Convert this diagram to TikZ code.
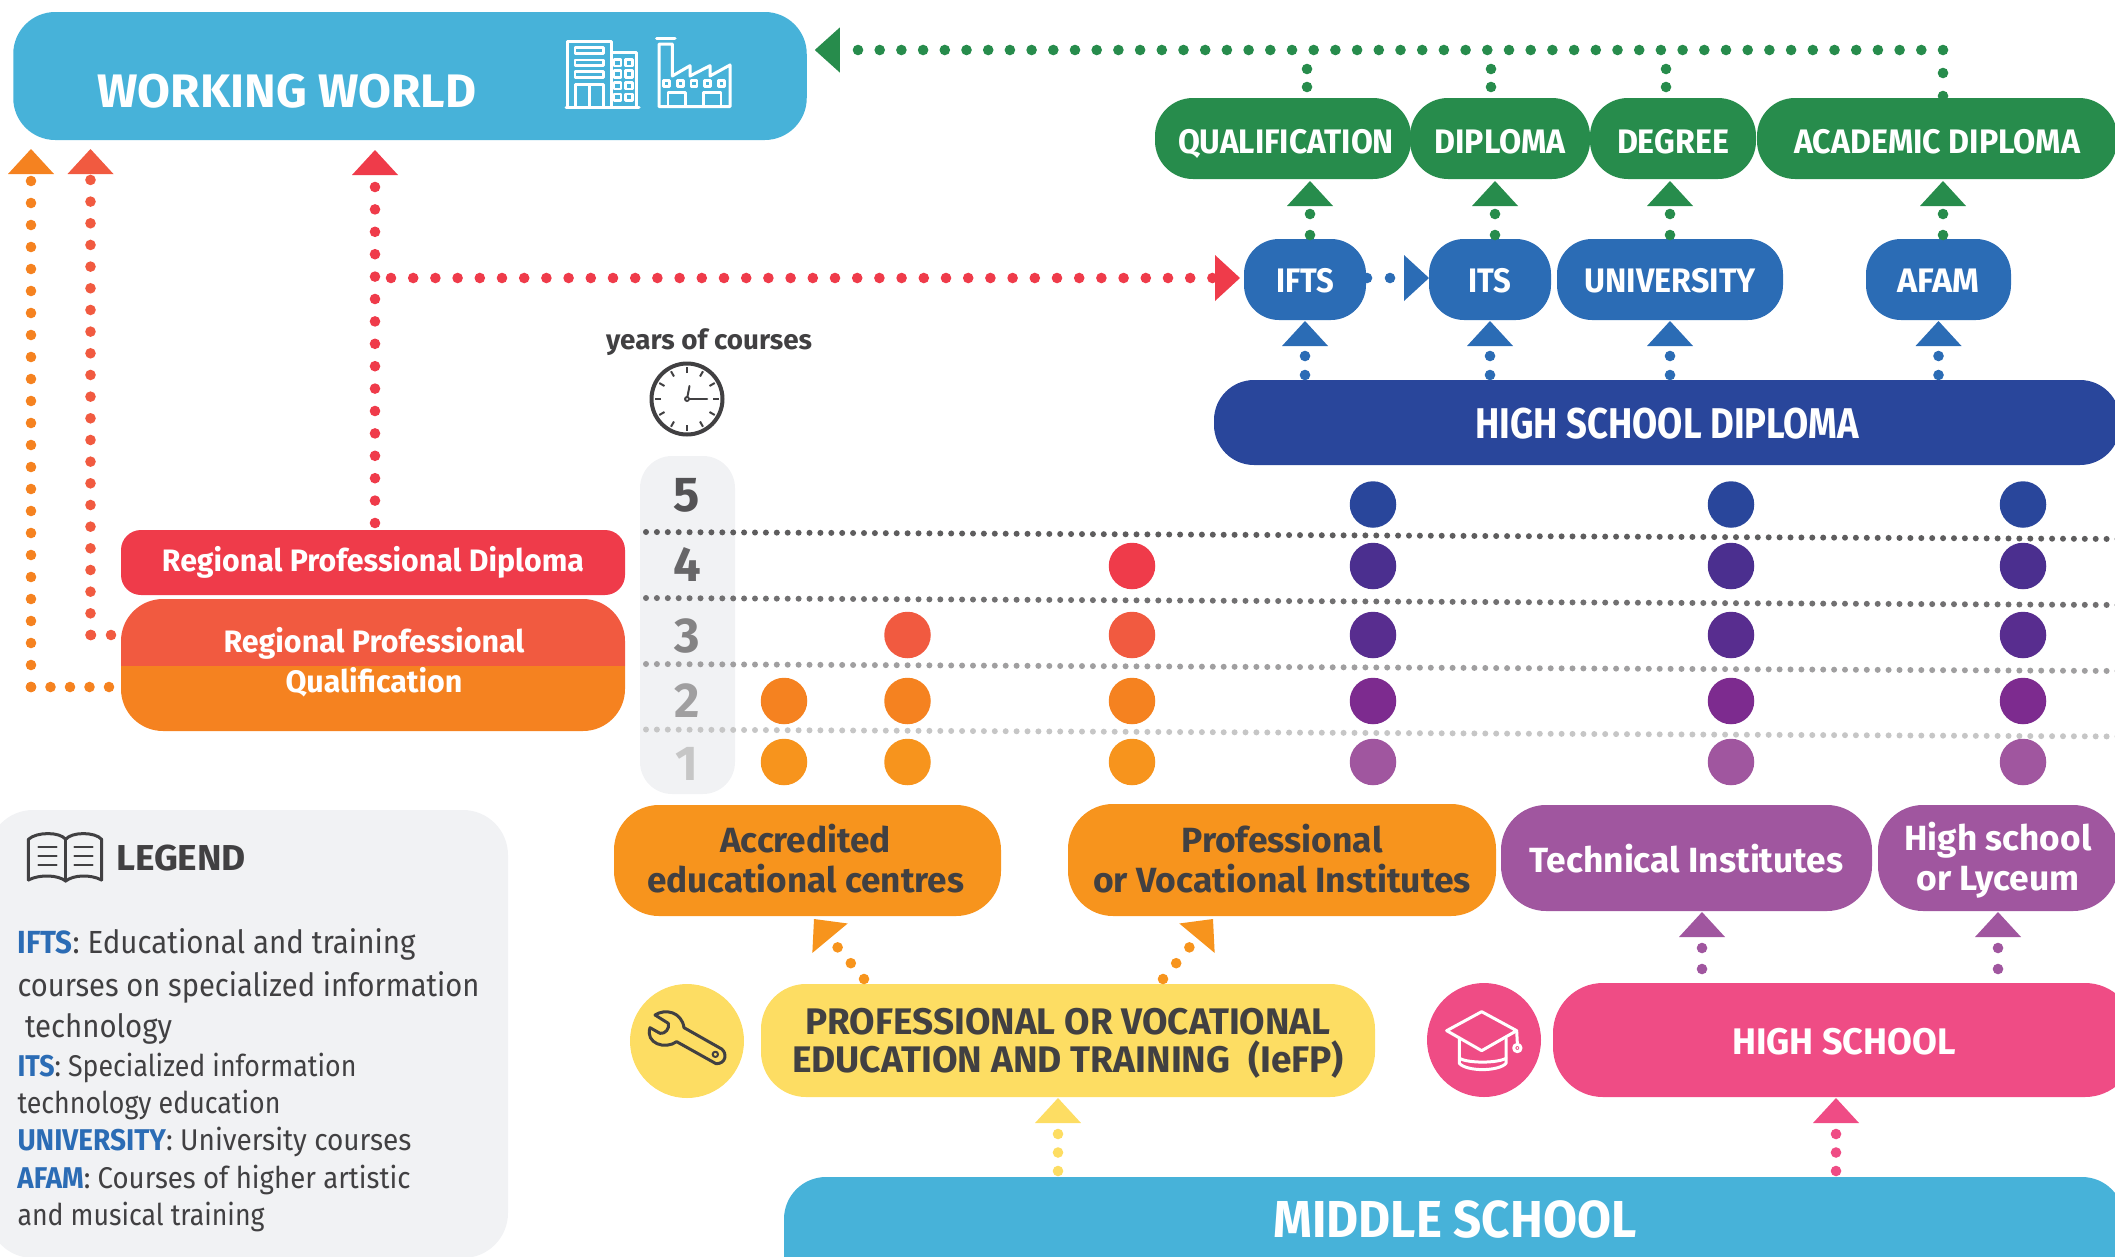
\documentclass[tikz,border=0pt]{standalone}
\usepackage{graphicx}
\usepackage{fontspec}
\setmainfont{Fira Sans}
\usetikzlibrary{arrows.meta}
\definecolor{skyb}{HTML}{47B2D9}
\definecolor{grn}{HTML}{278C4C}
\definecolor{lblue}{HTML}{2B6CB5}
\definecolor{dblue}{HTML}{29469B}
\definecolor{ink}{HTML}{414042}
\definecolor{pale}{HTML}{F1F2F4}
\definecolor{redd}{HTML}{EF3B4A}
\definecolor{redo}{HTML}{F15A40}
\definecolor{orng}{HTML}{F58220}
\definecolor{orny}{HTML}{F7941D}
\definecolor{yell}{HTML}{FDDD63}
\definecolor{pink}{HTML}{EF4C85}
\definecolor{purp}{HTML}{A0569F}
\definecolor{vio}{HTML}{4B2F8F}
\definecolor{vib}{HTML}{582D8F}
\definecolor{vic}{HTML}{7D2B8F}
\newsavebox\wfbox
\newcommand\wf[2]{\sbox\wfbox{#2}\dp\wfbox=0pt\scalebox{\fpeval{#1pt/\the\wd\wfbox}}[1]{\usebox\wfbox}}
\tikzset{
  tx/.style 2 args={font=\fontsize{#1}{#2}\selectfont\bfseries},
  pill/.style n args={4}{rectangle,rounded corners=#4,fill=#3,minimum width=#1,minimum height=#2,inner sep=0pt,outer sep=0pt,align=center},
  plain/.style={inner sep=0pt,outer sep=0pt,align=center},
  yr/.style={circle,fill=#1,minimum size=46.5pt,inner sep=0pt,outer sep=0pt},
  dots/.style 2 args={line width=10.6pt,line cap=round,draw=#1,dash pattern=on 0pt off #2},
  tipup/.style={-{Triangle[width=46pt,length=25pt,line width=0pt]}},
  griddots/.style={line width=6pt,line cap=round,draw=#1,dash pattern=on 0pt off 10.9pt},
  legt/.style={plain,anchor=base west,text=ink,font=\fontsize{#1}{#1}\selectfont},
  icon/.style={line width=3pt,line join=round,line cap=round,draw=#1}
}
\begin{document}
\begin{tikzpicture}[x=1pt,y=-1pt]
\useasboundingbox (0,0) rectangle (2115,1256);
\clip (0,0) rectangle (2115,1256);

% years column and grid
\node[pill={95pt}{338pt}{pale}{32pt}] (col) at (687.5,625) {};
\coordinate (g1a) at (646,532); \coordinate (g1b) at (2120,539);
\coordinate (g2a) at (646,598); \coordinate (g2b) at (2120,605);
\coordinate (g3a) at (646,664); \coordinate (g3b) at (2120,671);
\coordinate (g4a) at (646,729.5); \coordinate (g4b) at (2120,736.5);
\draw[griddots=ink!85] (g1a) -- (g1b);
\draw[griddots=ink!75] (g2a) -- (g2b);
\draw[griddots=ink!50] (g3a) -- (g3b);
\draw[griddots=ink!30] (g4a) -- (g4b);
\node[plain,tx={49}{49},text=ink!90] (n5) at (687,495.5) {5};
\node[plain,tx={49}{49},text=ink!80] (n4) at (687,565) {4};
\node[plain,tx={49}{49},text=ink!65] (n3) at (687,636.5) {3};
\node[plain,tx={49}{49},text=ink!50] (n2) at (687,701) {2};
\node[plain,tx={49}{49},text=ink!30] (n1) at (687,764) {1};

% main boxes
\node[pill={793.5pt}{128pt}{skyb}{42pt}] (work) at (410,76) {};
\node[plain,tx={47}{47},text=white] (worktext) at (287,91) {\wf{379}{WORKING WORLD}};

\node[pill={256pt}{81pt}{grn}{38pt},tx={34}{34},text=white,text height=29pt,text depth=0pt] (qual) at (1283,138.5) {\hspace{6pt}\wf{216}{QUALIFICATION}};
\node[pill={180pt}{81pt}{grn}{38pt},tx={34}{34},text=white,text height=29pt,text depth=0pt] (dipl) at (1500,138.5) {\wf{131}{DIPLOMA}};
\node[pill={166pt}{81pt}{grn}{38pt},tx={34}{34},text=white,text height=29pt,text depth=0pt] (degr) at (1673,138.5) {\wf{112}{DEGREE}};
\node[pill={360pt}{81pt}{grn}{38pt},tx={34}{34},text=white,text height=29pt,text depth=0pt] (acad) at (1937,138.5) {\wf{286}{ACADEMIC DIPLOMA}};

\node[pill={122pt}{81pt}{lblue}{35pt},tx={34}{34},text=white,text height=26pt,text depth=0pt] (ifts) at (1305,279.5) {\wf{58}{IFTS}};
\node[pill={122pt}{81pt}{lblue}{35pt},tx={34}{34},text=white,text height=26pt,text depth=0pt] (its) at (1490,279.5) {\wf{43}{ITS}};
\node[pill={226pt}{81pt}{lblue}{35pt},tx={34}{34},text=white,text height=26pt,text depth=0pt] (univ) at (1670,279.5) {\wf{171}{UNIVERSITY}};
\node[pill={145pt}{81pt}{lblue}{35pt},tx={34}{34},text=white,text height=26pt,text depth=0pt] (afam) at (1938.5,279.5) {\wf{82}{AFAM}};

\node[pill={906pt}{85pt}{dblue}{40pt},tx={43}{43},text=white,text height=32.3pt,text depth=0pt] (hsd) at (1667,422.5) {\wf{384}{HIGH SCHOOL DIPLOMA}};

\node[pill={504pt}{65pt}{redd}{20pt},tx={31}{31},text=white,text depth=7pt] (rpd) at (373,562.5) {\wf{422}{Regional Professional Diploma}};
\node[rectangle,rounded corners=42pt,minimum width=504pt,minimum height=132pt,inner sep=0pt,outer sep=0pt,
  path picture={\fill[redo,sharp corners] (-260,-70) rectangle (260,1); \fill[orng,sharp corners] (-260,1) rectangle (260,70);}] (rpq) at (373,665) {};
\node[plain,tx={31}{40.5},text=white] (rpqtext) at (374,660) {\wf{301}{Regional Professional}\\\wf{177}{Qualification}};

\node[pill={387pt}{111pt}{orny}{45pt},tx={35}{40},text=ink,text depth=4pt] (acc) at (807.5,860.5) {\hspace*{-4pt}\wf{171}{Accredited}\\\hspace*{-4pt}\wf{317}{educational centres}};
\node[pill={428pt}{112pt}{orny}{45pt},tx={35}{40},text=ink,text depth=4pt] (prof) at (1282,860) {\wf{201}{Professional}\\\wf{378}{or Vocational Institutes}};
\node[pill={371pt}{106pt}{purp}{45pt},tx={35}{35},text=white] (tech) at (1686.5,858) {\wf{314}{Technical Institutes}};
\node[pill={240pt}{106pt}{purp}{45pt},tx={35}{40},text=white,text depth=4pt] (hsl) at (1998,858) {\wf{187}{High school}\\\wf{163}{or Lyceum}};

\node[pill={614pt}{113pt}{yell}{45pt},tx={37}{38},text=ink] (iefp) at (1068,1040.5) {\wf{525}{PROFESSIONAL OR VOCATIONAL}\\\wf{552}{EDUCATION AND TRAINING\ \ (IeFP)}};
\node[pill={582pt}{114pt}{pink}{50pt},tx={37}{37},text=white,text height=28.2pt,text depth=0pt] (hs) at (1844,1040) {\wf{224}{HIGH SCHOOL}};
\node[pill={1340pt}{140pt}{skyb}{42pt}] (ms) at (1454,1247) {};
\node[plain,tx={52}{52},text=white] (mstext) at (1455,1219) {\wf{363}{MIDDLE SCHOOL}};

\node[circle,fill=yell,minimum size=114pt,inner sep=0pt,outer sep=0pt] (wrench) at (687,1041) {};
\node[circle,fill=pink,minimum size=114pt,inner sep=0pt,outer sep=0pt] (gradcap) at (1484,1040) {};

% year circles
\foreach \row/\y/\c in {5/504.5/dblue,4/566/vio,3/635/vib,2/701/vic,1/762/purp}{
  \foreach \k/\x in {a/1373,b/1731,c/2023}{
    \node[yr=\c] (y\k\row) at (\x,\y) {};
  }
}
\node[yr=redd] (yd4) at (1132,566) {};
\node[yr=redo] (yd3) at (1132,635) {};
\node[yr=orng] (yd2) at (1132,701) {};
\node[yr=orny] (yd1) at (1132,762) {};
\node[yr=redo] (ye3) at (907.5,635) {};
\node[yr=orng] (ye2) at (907.5,701) {};
\node[yr=orny] (ye1) at (907.5,762) {};
\node[yr=orng] (yf2) at (784,701) {};
\node[yr=orny] (yf1) at (784,762) {};

% green connectors
\coordinate (gtop) at (1943,50);
\draw[dots={grn}{23pt}] ([xshift=6pt,yshift=2pt]acad.north) -- (gtop);
\draw[dots={grn}{21.7pt},-{Triangle[width=45pt,length=25pt,line width=0pt]}] (gtop) -- ([xshift=8pt]work.east |- gtop);
\draw[dots={grn}{18pt}] ([xshift=24pt,yshift=11pt]qual.north) -- ([xshift=24pt,yshift=38pt]qual.north);
\draw[dots={grn}{18pt}] ([xshift=-9pt,yshift=11pt]dipl.north) -- ([xshift=-9pt,yshift=38pt]dipl.north);
\draw[dots={grn}{18pt}] ([xshift=-7pt,yshift=11pt]degr.north) -- ([xshift=-7pt,yshift=38pt]degr.north);
\draw[dots={grn}{21pt},tipup] ([xshift=5pt,yshift=4pt]ifts.north) -- ([xshift=27pt,yshift=-2pt]qual.south);
\draw[dots={grn}{21pt},tipup] ([xshift=5pt,yshift=4pt]its.north) -- ([xshift=-5pt,yshift=-2pt]dipl.south);
\draw[dots={grn}{21pt},tipup] ([yshift=4pt]univ.north) -- ([xshift=-3pt,yshift=-2pt]degr.south);
\draw[dots={grn}{21pt},tipup] ([xshift=4.5pt,yshift=4pt]afam.north) -- ([xshift=6pt,yshift=-2pt]acad.south);

% blue connectors
\draw[dots={lblue}{19pt},tipup] ([yshift=5pt]hsd.north -| ifts.south) -- ([yshift=-1pt]ifts.south);
\draw[dots={lblue}{19pt},tipup] ([yshift=5pt]hsd.north -| its.south) -- ([yshift=-1pt]its.south);
\draw[dots={lblue}{19pt},tipup] ([yshift=5pt]hsd.north -| univ.south) -- ([yshift=-1pt]univ.south);
\draw[dots={lblue}{19pt},tipup] ([yshift=5pt]hsd.north -| afam.south) -- ([yshift=-1pt]afam.south);
\draw[dots={lblue}{23pt},tipup] ([xshift=1pt,yshift=1.5pt]ifts.east) -- ([yshift=1.5pt]its.west);

% red connectors
\coordinate (rj) at (375,278);
\draw[dots={redd}{22.2pt},tipup] ([xshift=16pt]rj) -- ([xshift=-4pt,yshift=1.5pt]ifts.west);
\draw[dots={redd}{22.4pt},tipup] ([xshift=2pt,yshift=7pt]rpd.north) -- ([xshift=-35pt,yshift=-10pt]work.south);
\coordinate (lo) at (31,687);
\coordinate (lr) at (90.5,635);
\draw[dots={orng}{19.5pt}] ([xshift=-12pt,yshift=-22pt]rpq.west) -- (lo);
\draw[dots={orng}{22pt},tipup] (lo) -- ([yshift=-9pt]work.south -| lo);
\draw[dots={redo}{20pt}] ([xshift=-10pt,yshift=30pt]rpq.west) -- (lr);
\draw[dots={redo}{21.67pt},tipup] (lr) -- ([yshift=-9pt]work.south -| lr);

% lower connectors
\draw[dots={purp}{21pt},tipup] ([xshift=-142pt,yshift=14pt]hs.north) -- ([xshift=15.5pt,yshift=-1pt]tech.south);
\draw[dots={purp}{21pt},tipup] ([xshift=154pt,yshift=14pt]hs.north) -- ([yshift=-1pt]hsl.south);
\draw[dots={orny}{20.6pt},tipup] ([xshift=-204pt,yshift=5pt]iefp.north) -- ([xshift=6.5pt,yshift=-3pt]acc.south);
\draw[dots={orny}{20.6pt},tipup] ([xshift=95pt,yshift=5pt]iefp.north) -- ([xshift=-69pt,yshift=-3pt]prof.south);
\draw[dots={yell}{18.5pt},tipup] ([xshift=-396pt,yshift=6pt]ms.north) -- ([xshift=-10pt,yshift=-1pt]iefp.south);
\draw[dots={pink}{18.5pt},tipup] ([xshift=382pt,yshift=6pt]ms.north) -- ([xshift=-8pt,yshift=-1pt]hs.south);

% building and factory
\begin{scope}[shift={(540,0)},x=0.33333pt,y=-0.33333pt,icon=white,fill=none]
\draw (78,322) -- (297,322);
\draw (82,322) -- (82,125) -- (215,125) -- (215,322);
\draw (215,158) -- (290,158) -- (290,322);
\foreach \yy in {143,180,215} \draw[line width=2.4pt] (105,\yy) rectangle (190,\yy+17);
\draw[line width=2.4pt] (107,322) -- (107,253) -- (190,253) -- (190,322);
\draw[line width=2.4pt] (148,253) -- (148,322);
\foreach \xx in {222,256} \foreach \yy in {178,212,247,282} \draw[line width=2.4pt] (\xx,\yy) rectangle (\xx+21,\yy+20);
\draw (350,115) -- (405,115);
\draw (357,320) -- (357,132) -- (397,132) -- (397,228) -- (450,197) -- (450,228) -- (510,197) -- (510,228) -- (570,195) -- (570,320) -- cycle;
\foreach \xx in {371,412,453,494,536} \draw[line width=2.4pt] (\xx,242) rectangle (\xx+18,260);
\draw[line width=2.4pt] (384,320) -- (384,278) -- (437,278) -- (437,320);
\draw[line width=2.4pt] (490,320) -- (490,278) -- (543,278) -- (543,320);
\end{scope}

% clock
\node[plain,tx={27.5}{27.5},text=ink] (years) at (709,339) {\wf{206}{years of courses}};
\node[circle,draw=ink,line width=4pt,minimum size=71pt,inner sep=0pt,outer sep=0pt] (clock) at (687,399) {};
\begin{scope}[shift={(clock.center)},draw=ink,line width=2pt]
\foreach \a in {0,30,...,330} \draw (\a:26) -- (\a:32);
\draw[line width=2.5pt,line cap=round] (0,0) -- (20,0);
\draw[line width=2pt,line cap=round] (0,0) -- (2.5,-13);
\fill[ink] (0,0) circle (3pt);
\fill[white] (0,0) circle (1pt);
\end{scope}

% wrench
\begin{scope}[shift={(610,900)},x=0.33333pt,y=-0.33333pt,icon=ink]
\draw (135,345) .. controls (165,325) and (215,335) .. (222,383) -- (335,447) .. controls (352,460) and (348,492) .. (318,491) -- (200,425) .. controls (165,450) and (105,430) .. (120,383) -- (150,400) .. controls (165,403) and (180,385) .. (175,370) -- cycle;
\draw[line width=2pt] (316,463) circle (8);
\end{scope}

% graduation cap
\begin{scope}[shift={(1400,960)},x=0.33333pt,y=-0.33333pt,icon=white]
\draw (245,155) -- (350,212) -- (245,272) -- (140,212) -- cycle;
\draw (178,235) -- (178,310) .. controls (200,335) and (295,335) .. (318,310) -- (318,235);
\draw (178,295) .. controls (205,310) and (290,310) .. (318,295);
\draw (350,212) -- (352,250);
\draw (352,264) circle (11);
\fill[white] (352,264) circle (3);
\end{scope}

% legend
\node[pill={520pt}{448pt}{pale}{45pt}] (legend) at (248,1034) {};
\begin{scope}[shift={(0,800)},x=0.33333pt,y=-0.33333pt,icon=ink]
\draw (85,240) -- (85,118) .. controls (110,95) and (180,95) .. (197,118) .. controls (215,95) and (285,95) .. (305,118) -- (305,240);
\draw (85,240) .. controls (120,222) and (175,225) .. (197,243) .. controls (220,225) and (270,222) .. (305,240);
\draw (197,118) -- (197,243);
\foreach \yy in {142,168,195} {\draw[line width=2pt] (115,\yy) -- (170,\yy); \draw[line width=2pt] (223,\yy) -- (278,\yy);}
\end{scope}
\node[plain,anchor=base west,tx={36}{36},text=ink] (legtitle) at (116,870) {\wf{130}{LEGEND}};
\newcommand\lb[1]{\textcolor{lblue}{\bfseries #1}}
\node[legt=32] (l1) at (17.5,953) {\wf{398}{\lb{IFTS}: Educational and training}};
\node[legt=32] (l2) at (17.5,996) {\wf{462}{courses on specialized information}};
\node[legt=32] (l3) at (25,1037) {\wf{147}{technology}};
\node[legt=30] (l4) at (17.5,1076) {\wf{339}{\lb{ITS}: Specialized information}};
\node[legt=30] (l5) at (17.5,1113) {\wf{263}{technology education}};
\node[legt=30] (l6) at (17.5,1150) {\wf{394}{\lb{UNIVERSITY}: University courses}};
\node[legt=30] (l7) at (17.5,1188) {\wf{393}{\lb{AFAM}: Courses of higher artistic}};
\node[legt=30] (l8) at (17.5,1225) {\wf{247}{and musical training}};
\end{tikzpicture}
\end{document}
